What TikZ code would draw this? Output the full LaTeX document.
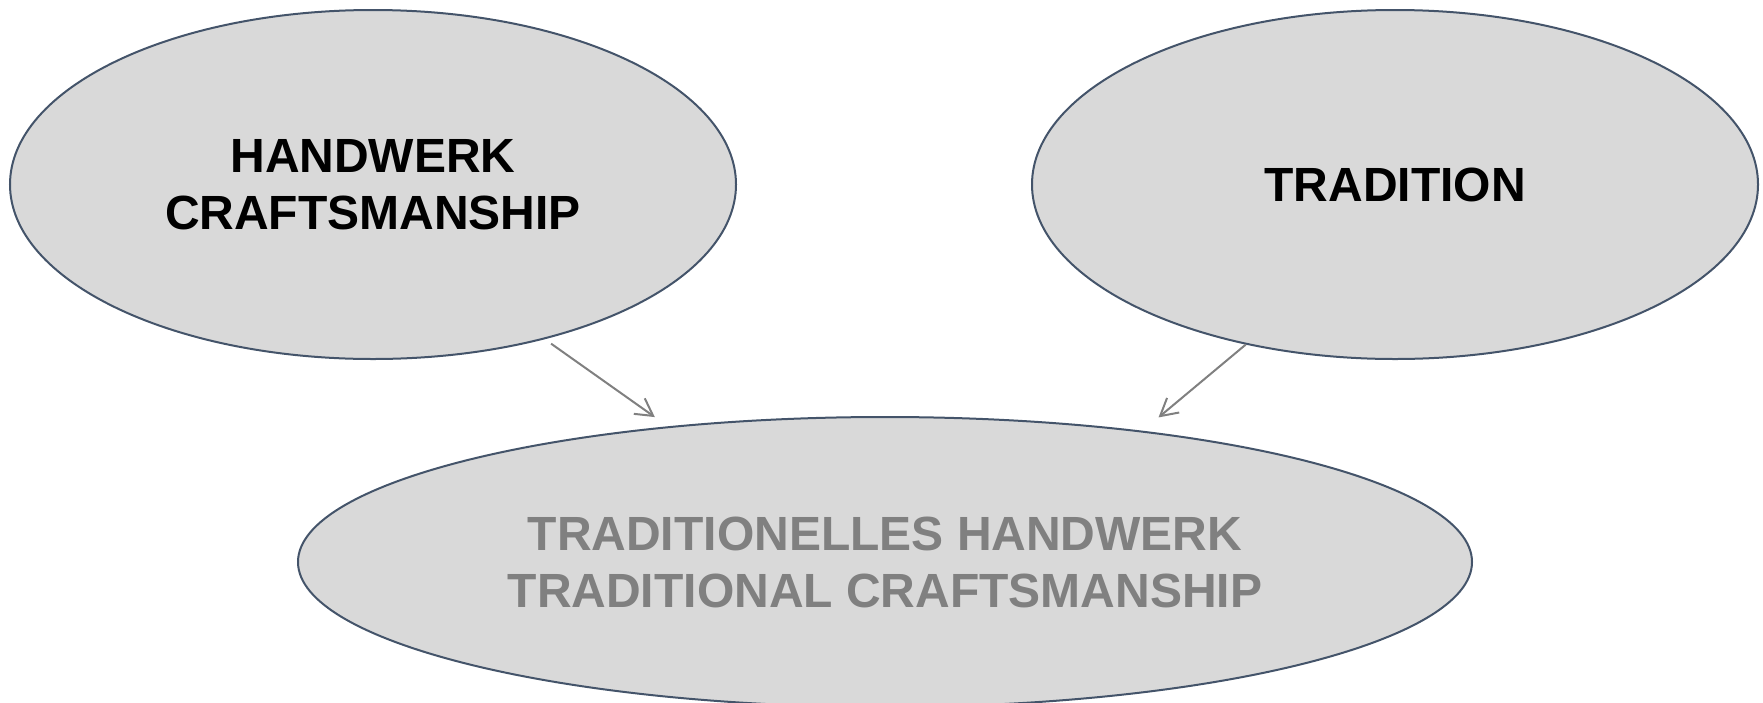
\documentclass[tikz,border=0pt]{standalone}
\usepackage{fontspec}
\setmainfont{Liberation Sans}
\usetikzlibrary{arrows.meta,shapes.geometric}
\definecolor{ellfill}{HTML}{D9D9D9}
\definecolor{elldraw}{HTML}{44546A}
\definecolor{arrgray}{HTML}{808080}
\tikzset{
  bubble/.style={ellipse, draw=elldraw, fill=ellfill, line width=2pt, inner sep=0pt,
    align=center, font=\fontsize{48}{57}\selectfont\bfseries},
  arr/.style={draw=arrgray, line width=2pt, -{Straight Barb[length=17pt,width=19pt,line width=2pt]}}
}
\begin{document}
\begin{tikzpicture}[x=1pt,y=-1pt]
\useasboundingbox (0,0) rectangle (1763,702);
\clip (0,0) rectangle (1763,702);
\node[bubble, minimum width=726pt, minimum height=349pt] (e1) at (373,184.5) {HANDWERK\\CRAFTSMANSHIP};
\node[bubble, minimum width=726pt, minimum height=349pt] (e2) at (1395,184.5) {TRADITION};
\node[bubble, minimum width=1174pt, minimum height=290pt, text=arrgray] (e3) at (885,562) {TRADITIONELLES HANDWERK\\TRADITIONAL CRAFTSMANSHIP};
\draw[arr, shorten <=7.7pt, shorten >=16pt] (e1.-42.04) -- (e3.148.31);
\draw[arr, shorten >=20.8pt] (e2.-133.43) -- (e3.27.23);
\end{tikzpicture}
\end{document}
